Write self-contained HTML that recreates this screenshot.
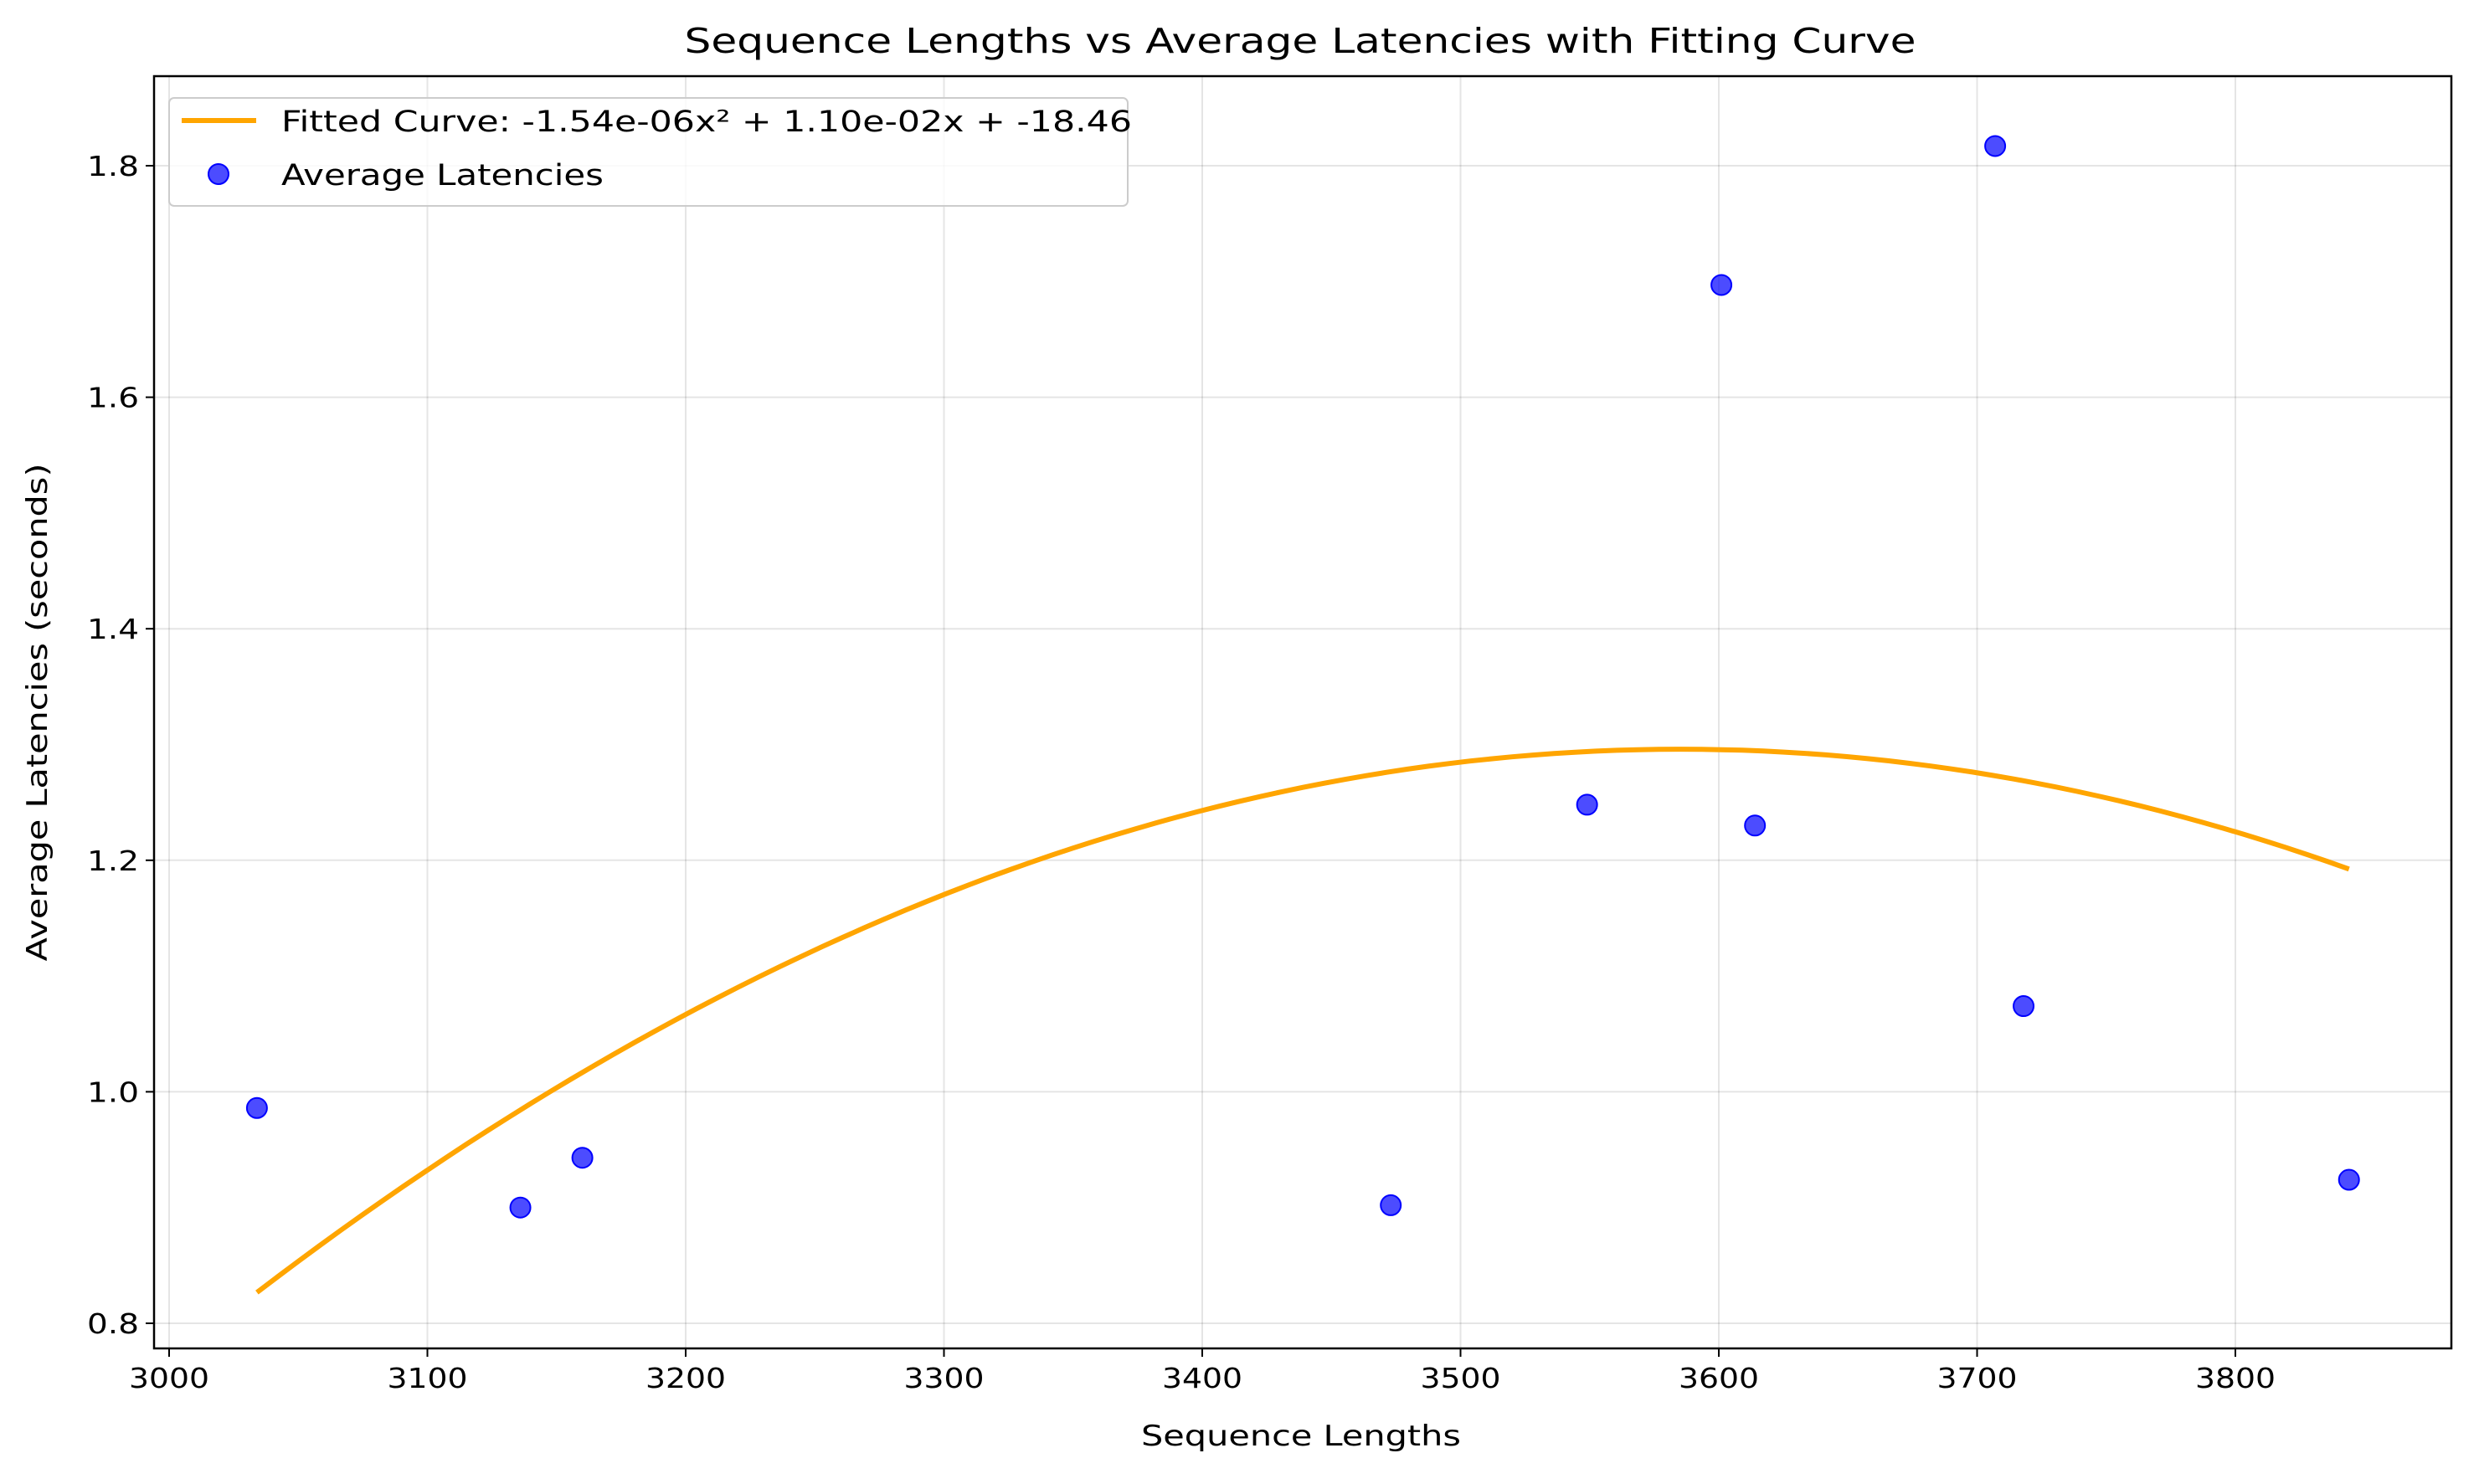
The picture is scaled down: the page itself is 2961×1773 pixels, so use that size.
<!DOCTYPE html>
<html><head><meta charset="utf-8"><style>
html,body{margin:0;padding:0;background:#fff}
svg text{font-family:"DejaVu Sans","Liberation Sans",sans-serif;fill:#000}
</style></head><body>
<svg id="chart" width="2961" height="1768" viewBox="0 0 2961 1768" xmlns="http://www.w3.org/2000/svg">
<rect x="0" y="0" width="2961" height="1768" fill="#fff"/>
<g id="grid"></g>
<g id="series"></g>
<g id="axes"></g>
<text x="1553" y="63" font-size="41" text-anchor="middle" textLength="1471" lengthAdjust="spacingAndGlyphs">Sequence Lengths vs Average Latencies with Fitting Curve</text>
<text x="1554" y="1727" font-size="34" text-anchor="middle" textLength="382" lengthAdjust="spacingAndGlyphs">Sequence Lengths</text>
<text x="0" y="0" font-size="34" text-anchor="middle" textLength="595" lengthAdjust="spacingAndGlyphs" transform="translate(56,851) rotate(-90)">Average Latencies (seconds)</text>
<g>
<rect x="202" y="117" width="1145" height="129" rx="6" fill="#fff" fill-opacity="0.8" stroke="#ccc" stroke-width="2"/>
<line x1="217" y1="144" x2="306" y2="144" stroke="#FFA500" stroke-width="6"/>
<text x="336" y="157" font-size="35" textLength="1016" lengthAdjust="spacingAndGlyphs">Fitted Curve: -1.54e-06x² + 1.10e-02x + -18.46</text>
<circle cx="261" cy="208" r="12" fill="rgba(0,0,255,0.7)" stroke="#0000ff" stroke-width="2"/>
<text x="336" y="221" font-size="35" textLength="385" lengthAdjust="spacingAndGlyphs">Average Latencies</text>
</g>
</svg>
<script>
const seqLengths = [3034, 3136, 3160, 3473, 3549, 3601, 3614, 3707, 3718, 3844];
const latencies = [0.986, 0.900, 0.943, 0.902, 1.248, 1.697, 1.230, 1.817, 1.074, 0.924];
const fitCoeffs = [-1.545e-6, 0.011078, -18.562];
const xTicks = [3000, 3100, 3200, 3300, 3400, 3500, 3600, 3700, 3800];
const yTicks = [0.8, 1.0, 1.2, 1.4, 1.6, 1.8];
const yTickLabels = ["0.8", "1.0", "1.2", "1.4", "1.6", "1.8"];

const L = 184, R = 2928, T = 91, B = 1611;
function xs(v){ return 202 + (v - 3000) * 3.085; }
function ys(v){ return 1581 - (v - 0.8) * 1383; }
const NS = "http://www.w3.org/2000/svg";
function mk(tag, attrs, parent){ const e = document.createElementNS(NS, tag); for (const k in attrs) e.setAttribute(k, attrs[k]); parent.appendChild(e); return e; }
const grid = document.getElementById('grid'), series = document.getElementById('series'), axes = document.getElementById('axes');

xTicks.forEach(t => {
  const x = xs(t);
  const g = mk('line', {x1:x, y1:T, x2:x, y2:B, stroke:'#000', 'stroke-opacity':0.1, 'stroke-width':2}, grid);
  
  
  const tk = mk('line', {x1:x, y1:B, x2:x, y2:B+10, stroke:'#000', 'stroke-width':2}, axes);
  
  
  const tx = mk('text', {x:x, y:B+47, 'font-size':33, 'text-anchor':'middle', textLength:96, lengthAdjust:'spacingAndGlyphs'}, axes);
  tx.textContent = String(t);
  
  
});
yTicks.forEach((t, i) => {
  const y = ys(t);
  const g = mk('line', {x1:L, y1:y, x2:R, y2:y, stroke:'#000', 'stroke-opacity':0.1, 'stroke-width':2}, grid);
  
  
  const tk = mk('line', {x1:L-10, y1:y, x2:L, y2:y, stroke:'#000', 'stroke-width':2}, axes);
  
  
  const tx = mk('text', {x:L-18, y:y+12, 'font-size':33, 'text-anchor':'end', textLength:62, lengthAdjust:'spacingAndGlyphs'}, axes);
  tx.textContent = yTickLabels[i];
  
  
});
const frame = mk('rect', {x:L, y:T, width:R-L, height:B-T, fill:'none', stroke:'#000', 'stroke-width':2.5}, axes);



const xmin = Math.min(...seqLengths), xmax = Math.max(...seqLengths);
let d = '';
for (let i = 0; i <= 100; i++) {
  const xv = xmin + (xmax - xmin) * i / 100;
  const yv = fitCoeffs[0]*xv*xv + fitCoeffs[1]*xv + fitCoeffs[2];
  d += (i ? 'L' : 'M') + xs(xv).toFixed(1) + ' ' + ys(yv).toFixed(1);
}
const curve = mk('path', {d:d, fill:'none', stroke:'#FFA500', 'stroke-width':6}, series);



seqLengths.forEach((s, i) => {
  const c = mk('circle', {cx:xs(s), cy:ys(latencies[i]), r:12, fill:'rgba(0,0,255,0.7)', stroke:'#0000ff', 'stroke-width':2}, series);
  
  
});
</script>
</body></html>
